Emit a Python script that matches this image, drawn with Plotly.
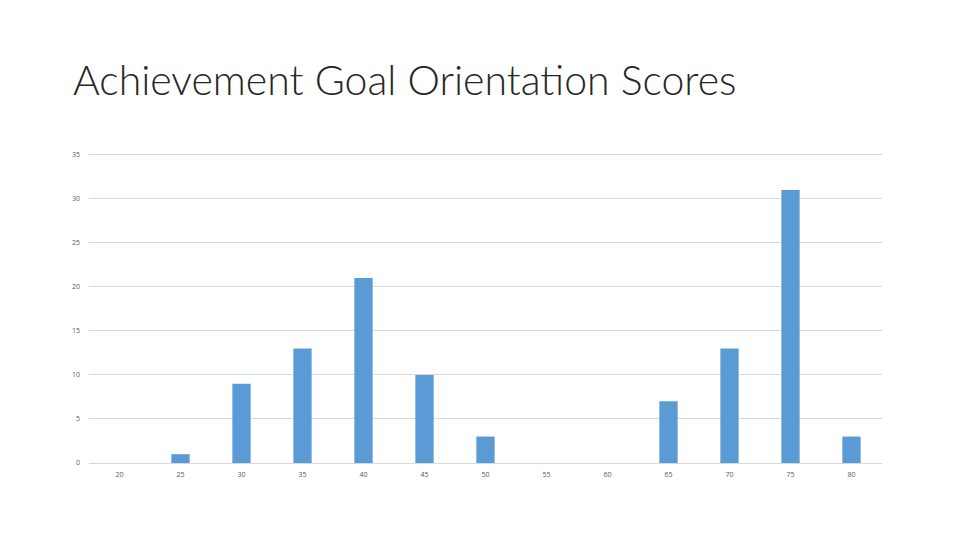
import plotly.graph_objects as go

categories = ["20", "25", "30", "35", "40", "45", "50", "55", "60", "65", "70", "75", "80"]
values = [0, 1, 9, 13, 21, 10, 3, 0, 0, 7, 13, 31, 3]
y_ticks = [0, 5, 10, 15, 20, 25, 30, 35]
title_text = "Achievement Goal Orientation Scores"

fig = go.Figure()
fig.add_trace(go.Bar(x=categories, y=values, marker=dict(color="#5b9bd5", line=dict(width=0))))

fig.update_layout(
    width=960, height=540,
    paper_bgcolor="white", plot_bgcolor="white",
    margin=dict(l=81, r=86, t=145, b=85),
    bargap=0.7,
    showlegend=False,
    font=dict(family="Open Sans", color="#595959", size=7),
    title=dict(text=title_text, x=65/960, xanchor="left", y=1 - 87/540, yanchor="bottom",
               xref="container", yref="container",
               font=dict(family="Lato", size=41, color="#262626", weight=300)),
)
fig.update_xaxes(type="category", showgrid=False, showline=True, linecolor="#d9d9d9", linewidth=1,
                 ticks="", ticklabelstandoff=5, tickfont=dict(size=7, color="#595959"))
fig.update_yaxes(range=[0, 35.2], tickvals=y_ticks, showgrid=True, gridcolor="#d9d9d9", gridwidth=1,
                 zeroline=False, showline=False, ticks="", ticklabelstandoff=8,
                 tickfont=dict(size=7, color="#595959"))

fig.write_html("out.html")
